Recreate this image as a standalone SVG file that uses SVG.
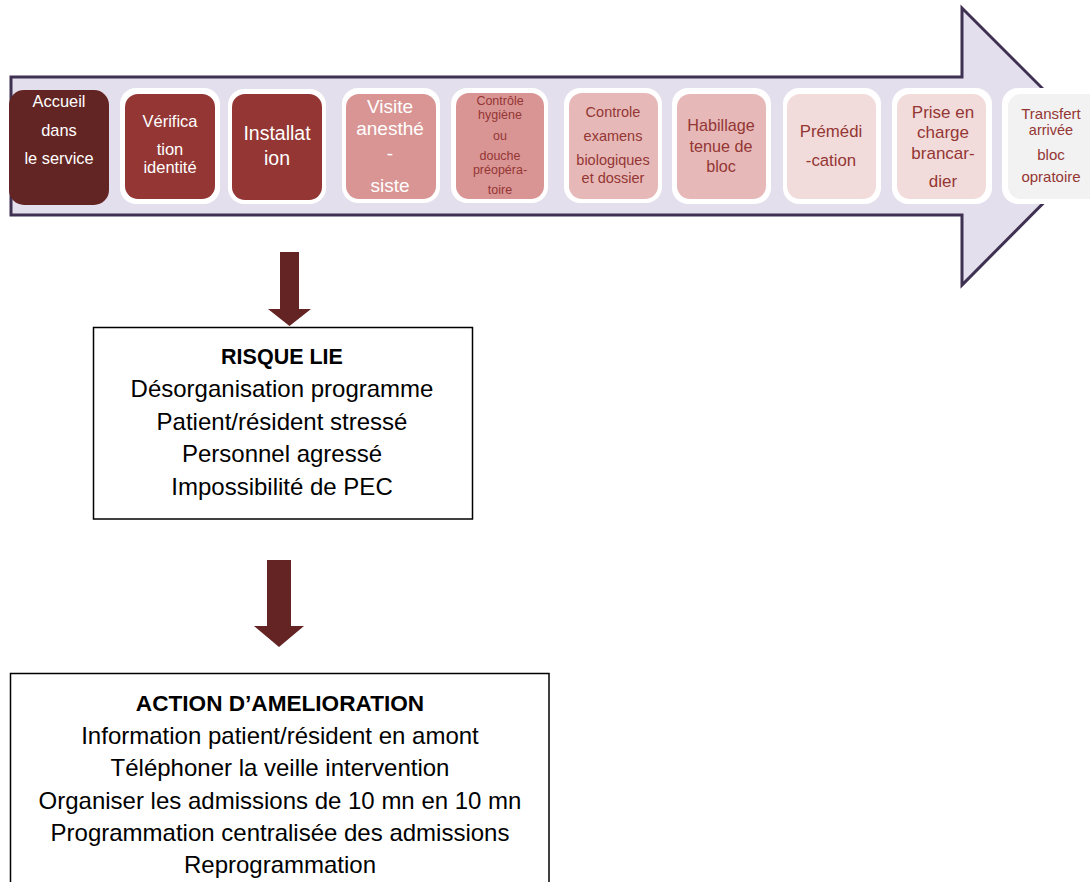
<svg xmlns="http://www.w3.org/2000/svg" width="1090" height="882" viewBox="0 0 1090 882">
<style>
text{font-family:"Liberation Sans",Arial,sans-serif;text-anchor:middle}
.w{fill:#ffffff}
.r{fill:#943634}
.k{fill:#000000;font-size:24px}
.b{font-weight:bold;font-size:21.5px}
.b2{font-weight:bold;font-size:22.6px}
.ring{fill:#ffffff}
.box{fill:#ffffff;stroke:#000000;stroke-width:1.5}
.dn{fill:#632423}
</style>
<rect width="1090" height="882" fill="#ffffff"/>
<g id="process-arrow">
<polygon points="11,77 962,77 962,8 1100,146 962,285 962,215 11,215" fill="#e4dfec" stroke="#3f3151" stroke-width="3" stroke-linejoin="miter"/>
</g>
<g id="n1">
<rect x="9" y="90" width="100" height="115" rx="15" fill="#632523"/>
<text class="w" font-size="16.4" x="59" y="107">Accueil</text>
<text class="w" font-size="16.4" x="59" y="136">dans</text>
<text class="w" font-size="16.4" x="59" y="164">le service</text>
</g>
<g id="n2">
<rect class="ring" x="120" y="88" width="100" height="116" rx="16"/>
<rect x="125" y="94" width="90" height="105" rx="13" fill="#943634"/>
<text class="w" font-size="16.5" x="170" y="127">Vérifica</text>
<text class="w" font-size="16.5" x="170" y="155">tion</text>
<text class="w" font-size="16.5" x="170" y="173">identité</text>
</g>
<g id="n3">
<rect class="ring" x="228" y="89" width="98" height="115" rx="16"/>
<rect x="232" y="94" width="90" height="106" rx="13" fill="#943634"/>
<text class="w" font-size="19.5" x="277" y="140">Installat</text>
<text class="w" font-size="19.5" x="277" y="165">ion</text>
</g>
<g id="n4">
<rect class="ring" x="342" y="88" width="98" height="115" rx="16"/>
<rect x="346" y="94" width="90" height="105" rx="13" fill="#d99594"/>
<text class="w" font-size="19" x="390" y="113">Visite</text>
<text class="w" font-size="19" x="390" y="135">anesthé</text>
<text class="w" font-size="19" x="390" y="160">-</text>
<text class="w" font-size="19" x="390" y="192">siste</text>
</g>
<g id="n5">
<rect class="ring" x="451" y="88" width="97" height="115" rx="16"/>
<rect x="456" y="93" width="88" height="106" rx="13" fill="#d99594"/>
<text class="r" font-size="12.5" x="500" y="105">Contrôle</text>
<text class="r" font-size="12.5" x="500" y="119">hygiène</text>
<text class="r" font-size="12.5" x="500" y="140">ou</text>
<text class="r" font-size="12.5" x="500" y="160">douche</text>
<text class="r" font-size="12.5" x="500" y="173.5">préopéra-</text>
<text class="r" font-size="12.5" x="500" y="194">toire</text>
</g>
<g id="n6">
<rect class="ring" x="564" y="88" width="98" height="115" rx="16"/>
<rect x="569" y="93" width="89" height="106" rx="13" fill="#e6b9b8"/>
<text class="r" font-size="14.5" x="613" y="117">Controle</text>
<text class="r" font-size="14.5" x="613" y="141">examens</text>
<text class="r" font-size="14.5" x="613" y="165">biologiques</text>
<text class="r" font-size="14.5" x="613" y="182.5">et dossier</text>
</g>
<g id="n7">
<rect class="ring" x="672" y="88" width="99" height="116" rx="16"/>
<rect x="677" y="94" width="89" height="105" rx="13" fill="#e6b9b8"/>
<text class="r" font-size="16.2" x="721" y="131">Habillage</text>
<text class="r" font-size="16.2" x="721" y="152">tenue de</text>
<text class="r" font-size="16.2" x="721" y="172">bloc</text>
</g>
<g id="n8">
<rect class="ring" x="783" y="88" width="98" height="116" rx="16"/>
<rect x="787" y="94" width="89" height="105" rx="13" fill="#f2dcdb"/>
<text class="r" font-size="16.8" x="831" y="137">Prémédi</text>
<text class="r" font-size="16.8" x="831" y="166">-cation</text>
</g>
<g id="n9">
<rect class="ring" x="892" y="88" width="100" height="116" rx="16"/>
<rect x="897" y="94" width="89" height="105" rx="13" fill="#f2dcdb"/>
<text class="r" font-size="17" x="943" y="117.5">Prise en</text>
<text class="r" font-size="17" x="943" y="138">charge</text>
<text class="r" font-size="17" x="943" y="158.5">brancar-</text>
<text class="r" font-size="17" x="943" y="187">dier</text>
</g>
<g id="n10">
<rect class="ring" x="1002" y="88" width="100" height="116" rx="16"/>
<rect x="1008" y="94" width="95" height="105" rx="13" fill="#f2f2f2"/>
<text class="r" font-size="15" x="1051" y="118.5">Transfert</text>
<text class="r" font-size="14.5" x="1051" y="135">arrivée</text>
<text class="r" font-size="15" x="1051" y="160">bloc</text>
<text class="r" font-size="15" x="1051" y="182">opratoire</text>
</g>
<g id="connectors">
<polygon class="dn" points="280,252 299,252 299,309 311,309 289.5,326 268,309 280,309"/>
<polygon class="dn" points="267,560 291,560 291,626 304,626 279,647 254,626 267,626"/>
</g>
<g id="risque">
<rect class="box" x="93.5" y="327.5" width="379" height="191.5"/>
<text class="k b" x="282" y="364">RISQUE LIE</text>
<text class="k" x="282" y="397">Désorganisation programme</text>
<text class="k" x="282" y="430">Patient/résident stressé</text>
<text class="k" x="282" y="462">Personnel agressé</text>
<text class="k" x="282" y="495">Impossibilité de PEC</text>
</g>
<g id="action">
<rect class="box" x="10.5" y="673.5" width="538.5" height="230"/>
<text class="k b2" x="280" y="711">ACTION D’AMELIORATION</text>
<text class="k" x="280" y="743.5">Information patient/résident en amont</text>
<text class="k" x="280" y="776">Téléphoner la veille intervention</text>
<text class="k" x="280" y="808.5">Organiser les admissions de 10 mn en 10 mn</text>
<text class="k" x="280" y="841">Programmation centralisée des admissions</text>
<text class="k" x="280" y="873">Reprogrammation</text>
</g>
</svg>
